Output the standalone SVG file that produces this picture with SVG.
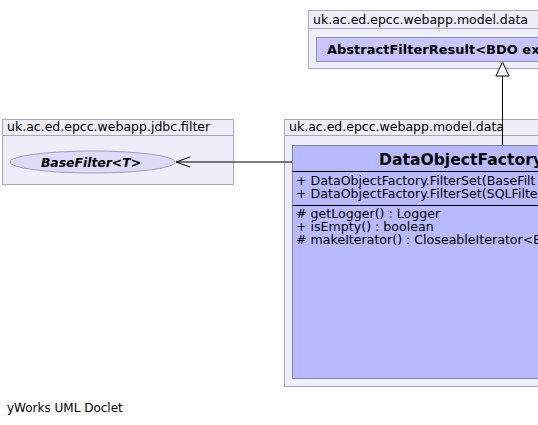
<svg xmlns="http://www.w3.org/2000/svg" width="538" height="425" viewBox="0 0 538 425">
<style>
.pkg{fill:#eeeefa;stroke:#a8a8b8;stroke-width:1}
.cls{fill:#b9b9ff;stroke:#8080a8;stroke-width:1}
.t{font-family:"DejaVu Sans",sans-serif;font-size:12.5px;fill:#000}
.m{font-size:12.6px}
.f{font-size:12px}
.b{font-weight:bold}
.n{font-size:15.6px}
.h{font-size:13px}
.e{font-size:12.4px;font-style:italic}
.edge{stroke:#000;stroke-width:1;fill:none}
</style>
<rect width="538" height="425" fill="#fff"/>
<g id="pkg-model-data-top">
<rect class="pkg" x="308.5" y="10.5" width="240" height="58"/>
<line class="pkg" x1="308.5" y1="28.5" x2="548" y2="28.5"/>
<text class="t" x="313" y="24">uk.ac.ed.epcc.webapp.model.data</text>
</g>
<g id="AbstractFilterResult">
<rect x="316.5" y="37.5" width="230" height="24" fill="#c6c6fc" stroke="#9090b8"/>
<text class="t b h" x="327" y="54">AbstractFilterResult&lt;BDO ex</text>
</g>
<g id="pkg-jdbc-filter">
<rect class="pkg" x="2.5" y="119.5" width="231" height="65"/>
<line class="pkg" x1="2.5" y1="135.5" x2="233.5" y2="135.5"/>
<text class="t" x="7" y="131">uk.ac.ed.epcc.webapp.jdbc.filter</text>
</g>
<g id="BaseFilter">
<ellipse cx="92.5" cy="162" rx="82.5" ry="11" fill="#dcdcf8" stroke="#a0a0b8"/>
<text class="t b e" x="91" y="166.5" text-anchor="middle">BaseFilter&lt;T&gt;</text>
</g>
<g id="pkg-model-data">
<rect class="pkg" x="284.5" y="119.5" width="264" height="267"/>
<line class="pkg" x1="284.5" y1="135.5" x2="548" y2="135.5"/>
<text class="t" x="289" y="131">uk.ac.ed.epcc.webapp.model.data</text>
</g>
<g id="DataObjectFactory">
<rect class="cls" x="292.5" y="145.5" width="256" height="233"/>
<line x1="292.5" y1="171.5" x2="548" y2="171.5" stroke="#000"/>
<line x1="292.5" y1="205.5" x2="548" y2="205.5" stroke="#000"/>
<text class="t b n" x="379" y="165">DataObjectFactory</text>
<text class="t m" x="296" y="185">+ DataObjectFactory.FilterSet(BaseFilt</text>
<text class="t m" x="296" y="198">+ DataObjectFactory.FilterSet(SQLFilte</text>
<text class="t m" x="296" y="218"># getLogger() : Logger</text>
<text class="t m" x="296" y="231">+ isEmpty() : boolean</text>
<text class="t m" x="296" y="244"># makeIterator() : CloseableIterator&lt;B</text>
</g>
<g id="connectors">
<line class="edge" x1="502.5" y1="76" x2="502.5" y2="145"/>
<polygon points="502.5,62 496,76 509,76" fill="#fff" stroke="#000"/>
<line class="edge" x1="176" y1="162" x2="292" y2="162"/>
<polyline class="edge" points="190,157 176,162 190,167"/>
</g>
<text class="t f" x="7" y="412">yWorks UML Doclet</text>
</svg>
